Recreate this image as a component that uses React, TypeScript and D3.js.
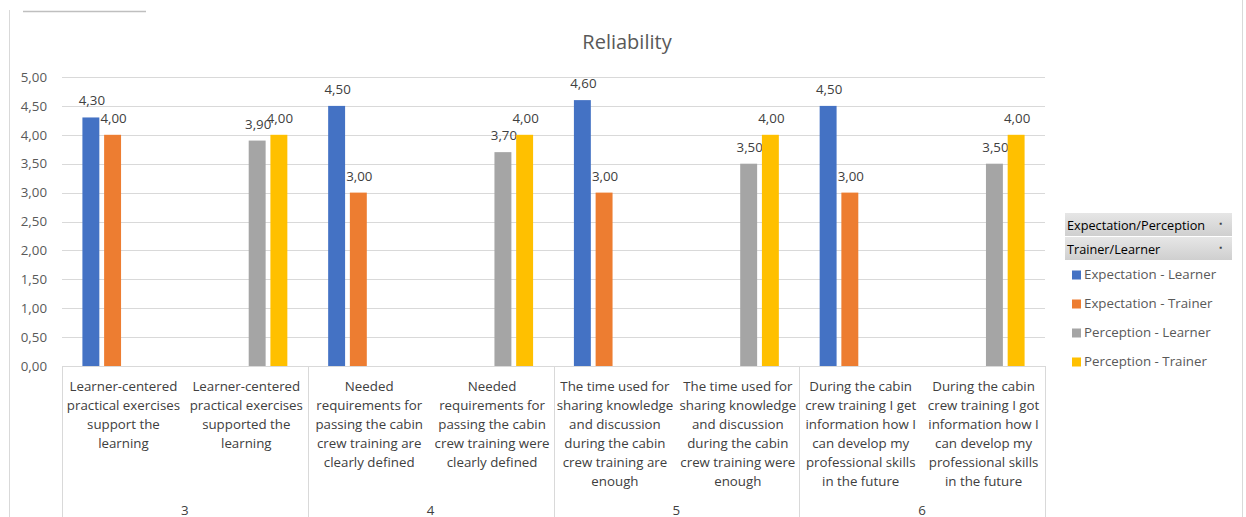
import React from "react";
import * as d3 from "d3";

const title = "Reliability";
const groups = ["3", "4", "5", "6"];
const categoryLabels: string[][] = [
  ["Learner-centered", "practical exercises", "support the", "learning"],
  ["Learner-centered", "practical exercises", "supported the", "learning"],
  ["Needed", "requirements for", "passing the cabin", "crew training are", "clearly defined"],
  ["Needed", "requirements for", "passing the cabin", "crew training were", "clearly defined"],
  ["The time used for", "sharing knowledge", "and discussion", "during the cabin", "crew training are", "enough"],
  ["The time used for", "sharing knowledge", "and discussion", "during the cabin", "crew training were", "enough"],
  ["During the cabin", "crew training I get", "information how I", "can develop my", "professional skills", "in the future"],
  ["During the cabin", "crew training I got", "information how I", "can develop my", "professional skills", "in the future"],
];
const seriesNames = ["Expectation - Learner", "Expectation - Trainer", "Perception - Learner", "Perception - Trainer"];
const seriesColors = ["#4472C4", "#ED7D31", "#A5A5A5", "#FFC000"];
const expectationLearner: (number | null)[] = [4.3, null, 4.5, null, 4.6, null, 4.5, null];
const expectationTrainer: (number | null)[] = [4.0, null, 3.0, null, 3.0, null, 3.0, null];
const perceptionLearner: (number | null)[] = [null, 3.9, null, 3.7, null, 3.5, null, 3.5];
const perceptionTrainer: (number | null)[] = [null, 4.0, null, 4.0, null, 4.0, null, 4.0];
const yTicks = [0, 0.5, 1, 1.5, 2, 2.5, 3, 3.5, 4, 4.5, 5];
const filterButtons = ["Expectation/Perception", "Trainer/Learner"];

const FONT = "'Open Sans', 'Liberation Sans', sans-serif";
const FS = 13.3;

export default function App() {
  const W = 1246, H = 517;
  const left = 62, right = 1045, top = 77, bottom = 366;
  const series = [expectationLearner, expectationTrainer, perceptionLearner, perceptionTrainer];
  const idx = categoryLabels.map((_, i) => String(i));
  const x0 = d3.scaleBand<string>().domain(idx).range([left, right]).padding(0);
  const x1 = d3.scaleBand<string>().domain(seriesNames).range([0, x0.bandwidth()]).paddingInner(0.22).paddingOuter(0.94);
  const y = d3.scaleLinear().domain([0, 5]).range([bottom, top]);
  const fmt = (v: number) => d3.format(".2f")(v).replace(".", ",");
  const gx = d3.scaleBand<string>().domain(groups).range([left, right]).padding(0);

  return (
    <svg width={W} height={H} style={{ position: "absolute", left: 0, top: 0, fontFamily: FONT }}>
      <rect x={0} y={0} width={W} height={H} fill="#fff" />
      <line x1={9.5} x2={9.5} y1={10} y2={H} stroke="#d9d9d9" />
      <line x1={1242.5} x2={1242.5} y1={0} y2={H} stroke="#d9d9d9" />
      <line x1={23} x2={146} y1={11.5} y2={11.5} stroke="#bfbfbf" strokeWidth={1.5} />
      <text x={627} y={49} textAnchor="middle" fontSize={20} fill="#595959">{title}</text>

      {yTicks.map((t) => (
        <g key={t}>
          {t > 0 && <line x1={left} x2={right} y1={Math.round(y(t)) + 0.5} y2={Math.round(y(t)) + 0.5} stroke="#d9d9d9" />}
          <text x={47} y={y(t) + 4.7} textAnchor="end" fontSize={FS} fill="#595959">{fmt(t)}</text>
        </g>
      ))}

      {series.map((vals, s) =>
        vals.map((v, i) =>
          v == null ? null : (
            <g key={`${s}-${i}`}>
              <rect
                x={x0(String(i))! + x1(seriesNames[s])!}
                y={y(v)}
                width={x1.bandwidth()}
                height={bottom - y(v)}
                fill={seriesColors[s]}
              />
              <text
                x={x0(String(i))! + x1(seriesNames[s])! + x1.bandwidth() / 2 + 1}
                y={y(v) - 12}
                textAnchor="middle"
                fontSize={FS}
                fill="#404040"
              >
                {fmt(v)}
              </text>
            </g>
          )
        )
      )}

      <line x1={left} x2={right} y1={bottom + 0.5} y2={bottom + 0.5} stroke="#d9d9d9" />
      {[...groups.map((g) => gx(g)!), right].map((xv, i) => (
        <line key={i} x1={Math.round(xv) + 0.5} x2={Math.round(xv) + 0.5} y1={bottom} y2={H} stroke="#d9d9d9" />
      ))}
      {categoryLabels.map((lines, i) => (
        <text key={i} textAnchor="middle" fontSize={FS} fill="#404040">
          {lines.map((ln, j) => (
            <tspan key={j} x={x0(String(i))! + x0.bandwidth() / 2} y={391 + j * 19}>{ln}</tspan>
          ))}
        </text>
      ))}
      {groups.map((g) => (
        <text key={g} x={gx(g)! + gx.bandwidth() / 2} y={515} textAnchor="middle" fontSize={FS} fill="#404040">{g}</text>
      ))}

      <defs>
        <linearGradient id="btn" x1="0" x2="0" y1="0" y2="1">
          <stop offset="0" stopColor="#e6e6e6" />
          <stop offset="1" stopColor="#cfcfcf" />
        </linearGradient>
      </defs>
      {filterButtons.map((b, i) => (
        <g key={b} transform={`translate(1065,${213 + i * 24})`}>
          <rect width={167} height={23} fill="url(#btn)" />
          <text x={2} y={16.5} fontSize={12.7} fill="#000">{b}</text>
          <text x={1221 - 1065} y={13} fontSize={8} fill="#404040" textAnchor="middle">▪</text>
        </g>
      ))}
      {seriesNames.map((n, i) => (
        <g key={n} transform={`translate(1072,${275 + i * 29})`}>
          <rect x={0} y={-4.5} width={9} height={9} fill={seriesColors[i]} />
          <text x={12} y={4} fontSize={FS} fill="#595959">{n}</text>
        </g>
      ))}
    </svg>
  );
}
